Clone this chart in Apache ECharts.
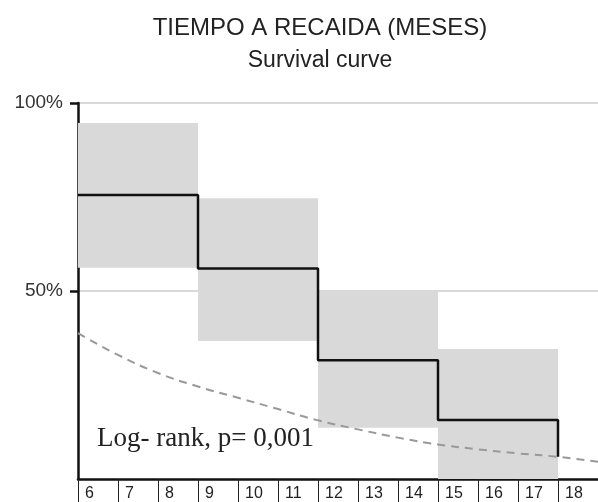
<!DOCTYPE html>
<html>
<head>
<meta charset="utf-8">
<script src="https://cdn.jsdelivr.net/npm/echarts@6/dist/echarts.min.js"></script>
<style>
  html, body { margin: 0; padding: 0; background: #fff; }
  #chart { width: 598px; height: 502px; }
</style>
</head>
<body>
<div id="chart"></div>
<script>
// Kaplan-Meier step curve (month, survival %)
const stepMonths = [6, 9, 12, 15, 18]
const stepSurvival = [75.5, 56, 31.6, 15.7, 5.9]

// confidence bands per interval
const ciStart = [6, 9, 12, 15]
const ciEnd = [9, 12, 15, 18]
const ciLow = [56.2, 36.7, 13.6, 0]
const ciHigh = [94.7, 74.7, 50, 34.6]

// dashed reference curve
const refMonths = [6, 7, 8, 9, 10, 11, 12, 13, 14, 15, 16, 17, 18, 19]
const refSurvival = [38.8, 33, 28.2, 24.6, 21.6, 18.6, 15.6, 13.2, 11, 9.2, 7.9, 6.8, 5.9, 4.6]

const yTicks = [50, 100]
const note = 'Log- rank, p= 0,001'

const chart = echarts.init(document.getElementById('chart'))

chart.setOption({
  animation: false,
  title: {
    text: 'TIEMPO A RECAIDA (MESES)',
    subtext: 'Survival curve',
    left: 315,
    top: 11,
    textAlign: 'center',
    itemGap: 9,
    textStyle: { fontFamily: 'Liberation Sans', fontSize: 24, fontWeight: 'normal', color: '#222' },
    subtextStyle: { fontFamily: 'Liberation Sans', fontSize: 23, color: '#222' },
  },
  grid: { left: 78, right: 0, top: 103, bottom: 23 },
  xAxis: {
    type: 'value',
    min: 6,
    max: 19,
    interval: 1,
    axisLine: { lineStyle: { color: '#111', width: 2.5 } },
    axisTick: { length: 23, lineStyle: { color: '#222', width: 1 } },
    axisLabel: {
      align: 'left',
      padding: [0, 0, 0, 7],
      margin: 7,
      fontFamily: 'Liberation Sans',
      fontSize: 16,
      color: '#222',
      showMaxLabel: false,
    },
    splitLine: { show: false },
  },
  yAxis: {
    type: 'value',
    min: 0,
    max: 100,
    interval: 50,
    axisLine: { show: true, lineStyle: { color: '#111', width: 2.5 } },
    axisTick: { show: true, length: 8, customValues: yTicks, lineStyle: { color: '#111', width: 2.5 } },
    axisLabel: {
      customValues: yTicks,
      formatter: v => v + '%',
      margin: 15,
      fontFamily: 'Liberation Sans',
      fontSize: 19,
      color: '#333',
    },
    splitLine: { lineStyle: { color: '#ccc', width: 1.5 } },
  },
  series: [
    {
      type: 'custom',
      silent: true,
      data: ciStart.map((s, i) => [s, ciEnd[i], ciLow[i], ciHigh[i]]),
      renderItem: (params, api) => {
        const p0 = api.coord([api.value(0), api.value(3)])
        const p1 = api.coord([api.value(1), api.value(2)])
        return {
          type: 'rect',
          shape: { x: p0[0], y: p0[1], width: p1[0] - p0[0], height: p1[1] - p0[1] },
          style: { fill: '#d9d9d9' },
        }
      },
      z: 1,
    },
    {
      type: 'line',
      data: refMonths.map((m, i) => [m, refSurvival[i]]),
      smooth: true,
      symbol: 'none',
      lineStyle: { color: '#999', width: 2, type: [8, 6] },
      z: 2,
    },
    {
      type: 'line',
      step: 'end',
      data: stepMonths.map((m, i) => [m, stepSurvival[i]]),
      symbol: 'none',
      lineStyle: { color: '#111', width: 2.5 },
      z: 3,
    },
  ],
  graphic: [{
    type: 'text',
    x: 97,
    y: 439,
    style: { text: note, font: '27px "Liberation Serif"', fill: '#222', verticalAlign: 'middle' },
  }],
})
</script>
</body>
</html>
